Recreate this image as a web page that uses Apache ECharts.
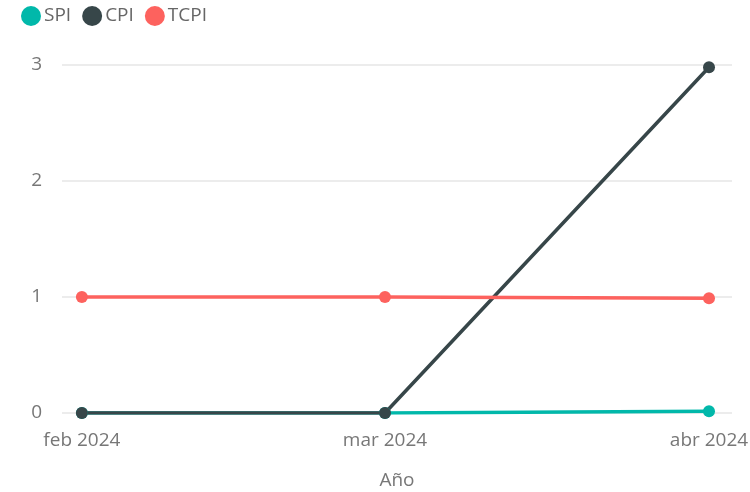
<!DOCTYPE html>
<html>
<head>
<meta charset="utf-8">
<script src="https://cdn.jsdelivr.net/npm/echarts@6/dist/echarts.min.js"></script>
</head>
<body style="margin:0">
<div id="main" style="width:750px;height:492px;"></div>
<script>
// días desde el 1 de febrero de 2024
var xDays = [0, 29, 60];
var xLabels = ['feb 2024', 'mar 2024', 'abr 2024'];
var spi = [0, 0, 0.015];
var cpi = [0, 0, 2.98];
var tcpi = [1, 1, 0.99];

var font = '"Open Sans", "Noto Sans", sans-serif';

function pairs(vals) {
  return vals.map(function (v, i) { return [xDays[i], v]; });
}

var chart = echarts.init(document.getElementById('main'));
chart.setOption({
  animation: false,
  color: ['#01B8AA', '#374649', '#FD625E'],
  textStyle: { fontFamily: font },
  legend: {
    left: 21, top: 6, padding: 0,
    icon: 'circle',
    itemWidth: 20, itemHeight: 20,
    itemGap: 11,
    textStyle: { fontSize: 19, color: '#666', fontFamily: font, padding: [0, 0, 0, -2] },
    data: ['SPI', 'CPI', 'TCPI']
  },
  grid: { left: 62, right: 18, top: 65, bottom: 79, outerBoundsMode: 'none' },
  xAxis: {
    type: 'value',
    min: -1.9, max: 62.2,
    name: 'Año', nameLocation: 'middle', nameGap: 58,
    nameTextStyle: { fontSize: 19, color: '#777', fontFamily: font },
    axisLine: { show: false },
    axisTick: { show: false },
    splitLine: { show: false },
    axisLabel: {
      customValues: xDays,
      fontSize: 19, color: '#777', margin: 18, fontFamily: font,
      formatter: function (v) { return xLabels[xDays.indexOf(v)] || ''; }
    }
  },
  yAxis: {
    type: 'value', min: 0, max: 3, interval: 1,
    axisLine: { show: false },
    axisTick: { show: false },
    axisLabel: { fontSize: 19, color: '#777', margin: 20, fontFamily: font },
    splitLine: { lineStyle: { color: '#e6e6e6', width: 1.5 } }
  },
  series: [
    { name: 'SPI', type: 'line', data: pairs(spi), symbol: 'circle', symbolSize: 12, lineStyle: { width: 3.5 } },
    { name: 'CPI', type: 'line', data: pairs(cpi), symbol: 'circle', symbolSize: 12, lineStyle: { width: 3.5 } },
    { name: 'TCPI', type: 'line', data: pairs(tcpi), symbol: 'circle', symbolSize: 12, lineStyle: { width: 3.5 } }
  ]
});
</script>
</body>
</html>
